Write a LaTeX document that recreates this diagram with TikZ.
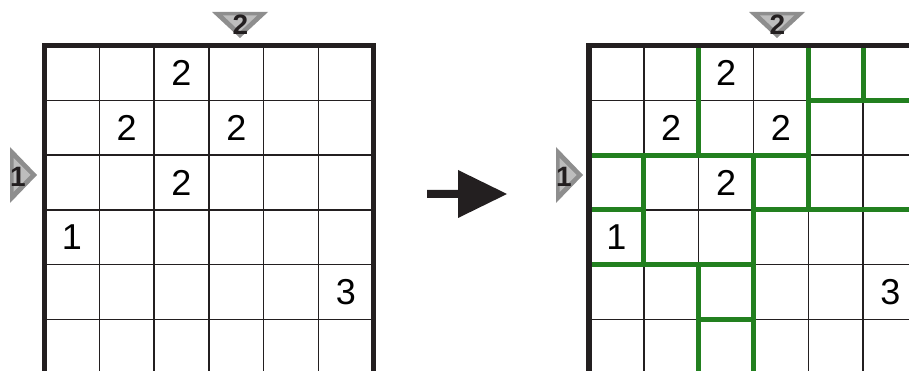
\documentclass[tikz,border=0pt]{standalone}
\usepackage{fontspec}
\setmainfont{Liberation Sans}
\usepackage{xcolor}
\usepackage{tikz}

\definecolor{inkblack}{HTML}{231F20}
\definecolor{regiongreen}{HTML}{22801F}
\definecolor{cluedark}{HTML}{8E8E8E}
\definecolor{cluelight}{HTML}{BDBDBD}

\begin{document}
\begin{tikzpicture}[
    x=1pt, y=-1pt,
    thinline/.style={line width=1.4pt, color=inkblack},
    thickline/.style={line width=5.5pt, color=inkblack},
    regionline/.style={line width=5pt, color=regiongreen, line cap=rect},
    digit/.style={font=\fontsize{36}{36}\selectfont, inner sep=0pt},
    cluetag/.style={font=\fontsize{28}{28}\selectfont\bfseries, text=inkblack, inner sep=0pt},
    clueouter/.style={fill=cluedark},
    clueinner/.style={fill=cluelight},
]
\useasboundingbox (0,0) rectangle (909,371);
\clip (0,0) rectangle (909,371);

% left grid: the puzzle
\begin{scope}[shift={(44.5,45.5)}, x=54.8pt, y=-54.8pt]
  \foreach \i in {1,...,5} \draw[thinline] (\i,0) -- (\i,6);
  \foreach \j in {1,...,6} \draw[thinline] (0,\j) -- (6,\j);
  \draw[thickline] (0,6.3) -- (0,0) -- (6,0) -- (6,6.3);
  \node[digit] (pa) at (2.5,0.5) {2};
  \node[digit] (pb) at (1.5,1.5) {2};
  \node[digit] (pc) at (3.5,1.5) {2};
  \node[digit] (pd) at (2.5,2.5) {2};
  \node[digit] (pe) at (0.5,3.5) {1};
  \node[digit] (pf) at (5.5,4.5) {3};
\end{scope}

% clues of the left grid
\fill[clueouter] (212,12) -- (268,12) -- (240,38) -- cycle;
\fill[clueinner] (223,15.5) -- (257,15.5) -- (240,31.5) -- cycle;
\node[cluetag] (ptop) at (240.5,24.5) {2};
\fill[clueouter] (10,147) -- (10,203) -- (37,175) -- cycle;
\fill[clueinner] (13.5,158) -- (13.5,192) -- (30.5,175) -- cycle;
\node[cluetag] (pleft) at (18,177) {1};

% arrow
\fill[inkblack] (427,190) -- (458,190) -- (458,170) -- (507,194)
  -- (458,218) -- (458,198) -- (427,198) -- cycle;

% right grid: the solution
\begin{scope}[shift={(589,45.5)}, x=54.8pt, y=-54.8pt]
  \foreach \i in {1,...,6} \draw[thinline] (\i,0) -- (\i,6);
  \foreach \j in {1,...,6} \draw[thinline] (0,\j) -- (6.5,\j);
  % region borders
  \draw[regionline] (2,0) -- (2,2);
  \draw[regionline] (4,0) -- (4,3);
  \draw[regionline] (5,0) -- (5,1);
  \draw[regionline] (4,1) -- (6.5,1);
  \draw[regionline] (0,2) -- (4,2);
  \draw[regionline] (1,2) -- (1,4);
  \draw[regionline] (3,2) -- (3,6.3);
  \draw[regionline] (0,3) -- (1,3);
  \draw[regionline] (3,3) -- (6.5,3);
  \draw[regionline] (0,4) -- (3,4);
  \draw[regionline] (2,4) -- (2,6.3);
  \draw[regionline] (2,5) -- (3,5);
  \draw[thickline] (0,6.3) -- (0,0) -- (6.5,0);
  \node[digit] (sa) at (2.5,0.5) {2};
  \node[digit] (sb) at (1.5,1.5) {2};
  \node[digit] (sc) at (3.5,1.5) {2};
  \node[digit] (sd) at (2.5,2.5) {2};
  \node[digit] (se) at (0.5,3.5) {1};
  \node[digit] (sf) at (5.5,4.5) {3};
\end{scope}

% clues of the right grid
\fill[clueouter] (749,12) -- (805,12) -- (777,38) -- cycle;
\fill[clueinner] (760,15.5) -- (794,15.5) -- (777,31.5) -- cycle;
\node[cluetag] (stop) at (777.5,24.5) {2};
\fill[clueouter] (556,147) -- (556,203) -- (583,175) -- cycle;
\fill[clueinner] (559.5,158) -- (559.5,192) -- (576.5,175) -- cycle;
\node[cluetag] (sleft) at (564,177) {1};
\end{tikzpicture}
\end{document}
